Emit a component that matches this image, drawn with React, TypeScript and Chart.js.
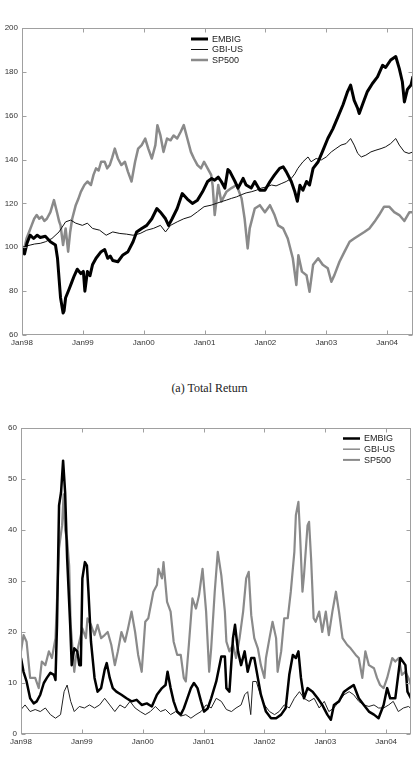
import React, { useEffect, useRef } from "react";
import { Chart, registerables } from "chart.js";

Chart.register(...registerables);

// x values are months since Jan 1998
const xTickMonths = [0, 12, 24, 36, 48, 60, 72];
const xTickLabels = ["Jan98", "Jan99", "Jan00", "Jan01", "Jan02", "Jan03", "Jan04"];
const seriesNames = ["EMBIG", "GBI-US", "SP500"];

// (a) Total Return
const trEmbig: [number, number][] = [
  [0, 100], [0.5, 97], [1, 102], [1.6, 105.5], [2.3, 104], [3, 105.5], [3.6, 104.5], [4.6, 105], [5.6, 102.5],
  [6.6, 101], [7, 95], [7.6, 77], [8.1, 70], [8.3, 71], [8.6, 77], [9.3, 81], [9.8, 84], [10.3, 87], [10.9, 90],
  [11.6, 88], [12.1, 89], [12.4, 80], [12.9, 89], [13.4, 87], [13.9, 92], [14.6, 95], [15.6, 98], [16.3, 99],
  [16.9, 95], [17.4, 96], [17.9, 94], [18.9, 93.4], [19.9, 96.5], [20.9, 98], [21.9, 102.5], [22.6, 107],
  [23.6, 108.6], [24.6, 110], [25.6, 113], [26.6, 117.7], [27.3, 116], [28.3, 113], [28.9, 110], [29.6, 113],
  [30.6, 117.7], [31.6, 124.5], [32.6, 122], [33.6, 120], [34.6, 121.5], [35.6, 125.3], [36.6, 130], [37.4, 131.4],
  [38, 130.6], [38.7, 132], [39.3, 130], [40, 127], [40.6, 135.5], [41, 134.5], [42, 130], [42.6, 127],
  [43.6, 131.4], [44.2, 128.4], [45.2, 127], [45.9, 130], [46.9, 126], [47.9, 126], [48.9, 130], [49.8, 133],
  [50.8, 136], [51.5, 136.7], [52.1, 134.5], [53.1, 130], [53.8, 125.3], [54.3, 121], [54.8, 128.3], [55.4, 126],
  [56.1, 130], [56.7, 128.4], [57.4, 136], [58.4, 139], [59.3, 144], [60.3, 149.6], [61.3, 154], [62.3, 159.5],
  [63.3, 165], [64.2, 171], [64.8, 174], [65.5, 167], [66.2, 163.3], [66.5, 161], [67.2, 165.5], [68.1, 171],
  [69.1, 174.7], [70.1, 177.7], [71.1, 183], [71.7, 182], [72.7, 185.4], [73.7, 187], [74.4, 181.5], [75, 175.5],
  [75.4, 166.3], [76, 172], [76.7, 174], [77.1, 178],
];
const trGbi: [number, number][] = [
  [0, 100], [0.8, 100.5], [1.6, 101], [2.5, 101.5], [3.6, 101.8], [4.6, 102.5], [5.9, 104], [7.3, 107],
  [8.6, 111.6], [9.6, 112.4], [10.6, 111], [11.9, 110], [12.9, 111], [13.9, 108.6], [15.3, 107.8], [16.6, 105.5],
  [17.9, 107], [19.3, 106.3], [20.6, 106], [21.9, 105.5], [23.3, 106.3], [24.6, 107.8], [25.9, 108.6], [27.3, 110],
  [28.3, 107], [29.3, 110], [30.6, 111.6], [31.9, 113], [33.3, 114], [34.6, 116.2], [35.9, 118.5], [37.3, 119.2],
  [38.3, 120], [39.3, 120.8], [40.3, 121.5], [41.3, 122.3], [42.3, 123], [43.3, 124], [44.2, 124.8], [45.2, 125.3],
  [46.2, 126], [47.2, 127], [48.2, 127.5], [49.2, 128.4], [50.1, 128], [51.1, 129], [52.1, 130], [53.1, 131.4],
  [53.8, 133.5], [54.4, 136], [55.4, 139], [56.4, 141.2], [57, 139], [58, 140.5], [59, 139.8], [60, 141.2],
  [61, 143.5], [61.9, 145], [62.9, 146.6], [63.9, 147.3], [64.8, 149.6], [65.5, 146.6], [66.2, 142.8], [66.9, 141.2],
  [67.8, 142], [68.8, 143.5], [69.8, 144.3], [70.8, 145], [71.7, 145.8], [72.7, 147.3], [73.7, 149.6], [74.4, 146.6],
  [75.4, 143.5], [76.3, 142.8], [77.1, 143.5],
];
const trSp500: [number, number][] = [
  [0, 96.5], [0.5, 100], [0.9, 104], [1.4, 107], [1.9, 110], [2.4, 113], [2.9, 114.7], [3.4, 113], [3.9, 114],
  [4.4, 112], [4.9, 113], [5.6, 116], [6.3, 121.5], [6.9, 116], [7.3, 112], [7.6, 110], [8.1, 101], [8.6, 108.6],
  [9.1, 98], [9.5, 107], [9.9, 113], [10.6, 119.2], [11.1, 122], [11.6, 125.3], [12.3, 128.4], [12.9, 130],
  [13.6, 128.4], [14.1, 133], [14.6, 136], [15.1, 135], [15.6, 139], [16.3, 139], [16.8, 136], [17.3, 137.5],
  [17.8, 141], [18.3, 145], [18.9, 140.5], [19.6, 137.5], [20.3, 139], [20.9, 134.4], [21.6, 130], [22.3, 139],
  [22.9, 145], [23.6, 146.6], [24.3, 149.6], [24.9, 145], [25.6, 140.5], [26.3, 146.6], [26.7, 155.7], [27.3, 151],
  [27.9, 143.5], [28.6, 149.6], [29.3, 148.8], [29.9, 151], [30.6, 149.6], [31.3, 152.7], [31.9, 155.7],
  [32.6, 149.6], [33.3, 143.5], [33.9, 140.5], [34.6, 137.5], [35.3, 136], [35.9, 139], [36.6, 136], [37.3, 133],
  [37.6, 128], [38, 114.7], [38.7, 128.4], [39.3, 120.8], [40.3, 125.3], [41.3, 127], [42.3, 128.4], [43.3, 122.3],
  [43.9, 113], [44.5, 99.5], [44.9, 108.6], [45.9, 117.7], [46.9, 119.2], [47.9, 116], [48.9, 119.2], [49.8, 114.7],
  [50.5, 110], [51.5, 108.6], [52.4, 104], [53.4, 95], [54.1, 82.8], [54.5, 96.4], [55.2, 88.9], [56.1, 87.3],
  [56.7, 79.7], [57.4, 92], [58.4, 95], [59.3, 92], [60.3, 90.4], [61, 84.3], [61.6, 87.3], [62.6, 93.4], [63.6, 98],
  [64.6, 102.5], [65.5, 104], [66.5, 105.5], [67.5, 107], [68.5, 108.6], [69.5, 111.6], [70.4, 114.7],
  [71.4, 118.5], [72.4, 118.5], [73.4, 116], [74.4, 114.7], [75.4, 112], [76.4, 116], [77.1, 116],
];

// (b) Volatility
const volEmbig: [number, number][] = [
  [0, 14.9], [0.5, 12.2], [1.1, 10.3], [1.8, 7], [2.5, 6], [3.1, 6.4], [3.8, 7.7], [4.5, 10], [5.1, 11], [5.8, 12],
  [6.5, 11.6], [6.8, 10.6], [7.1, 21.4], [7.5, 44.8], [7.9, 47.4], [8.3, 53.6], [8.7, 47.4], [9.1, 34.4],
  [9.7, 21.4], [10, 13.5], [10.5, 16.8], [11.1, 16.2], [11.5, 13.5], [11.8, 13.5], [12.1, 30.5], [12.6, 33.7],
  [13, 33], [13.3, 27.9], [13.8, 18.1], [14.5, 11], [15.1, 8.3], [15.8, 9], [16.5, 12.6], [16.9, 13.9], [17.5, 11],
  [18.1, 9], [18.8, 8.3], [19.8, 7.7], [20.8, 7], [21.8, 6.4], [22.8, 6.7], [23.8, 5.7], [24.8, 6], [25.8, 5.4],
  [26.8, 7.7], [27.8, 9], [28.5, 9.6], [28.9, 12.2], [29.5, 9], [30.1, 6.4], [30.8, 4.4], [31.5, 3.8], [32.1, 5],
  [32.8, 7], [33.5, 9], [34.1, 10], [34.8, 9], [35.5, 6.4], [36.1, 4.4], [36.8, 5], [37.5, 7], [38.5, 10.3],
  [39.5, 15.2], [40.2, 15.2], [40.5, 9], [41.1, 8.3], [41.8, 18.8], [42.2, 21.4], [42.8, 16.2], [43.4, 13.5],
  [44.1, 16.2], [44.7, 12.2], [45.4, 14.9], [46, 14.9], [46.7, 11], [47.3, 7.7], [48.3, 4.4], [49.3, 3.1],
  [50.3, 3.1], [51.3, 3.8], [52.2, 5.1], [52.9, 11.6], [53.6, 15.5], [54.2, 14.9], [54.7, 16.2], [55.2, 11],
  [55.8, 7], [56.5, 9], [57.5, 8.3], [58.5, 7], [59.4, 5.7], [60.4, 3.8], [61.1, 2.8], [61.7, 5.7], [62.7, 6.4],
  [63.7, 8.3], [64.7, 9], [65.6, 9.6], [66.6, 7], [67.6, 5.7], [68.6, 4.4], [69.6, 3.8], [70.5, 3.1], [71.5, 5.7],
  [72.2, 9], [72.8, 7], [73.8, 7], [74.8, 14.9], [75.8, 13.5], [76.2, 8.3], [76.9, 7],
];
const volGbi: [number, number][] = [
  [0, 4.8], [0.8, 5.7], [1.8, 4.4], [2.8, 4.8], [3.8, 4.4], [4.8, 5.1], [5.8, 3.8], [6.8, 3.1], [7.8, 3.8],
  [8.5, 8.3], [9.1, 9.6], [9.8, 6.4], [10.5, 4.4], [11.5, 5.4], [12.5, 5.1], [13.5, 5.7], [14.5, 5.1], [15.5, 5.7],
  [16.5, 7], [17.5, 5.7], [18.5, 4.4], [19.5, 5.7], [20.5, 5.1], [21.5, 6.4], [22.5, 5.1], [23.5, 4.4], [24.5, 3.8],
  [25.5, 4.4], [26.5, 5.4], [27.5, 4.4], [28.5, 4.8], [29.5, 3.8], [30.5, 4.4], [31.5, 3.5], [32.5, 3.8],
  [33.5, 3.1], [34.5, 3.8], [35.5, 4.4], [36.5, 5.7], [37.5, 5.1], [38.5, 7], [39.5, 6.4], [40.5, 4.8], [41.5, 4.4],
  [42.4, 5.1], [43.4, 5.7], [44.1, 7.7], [44.7, 8.3], [45.3, 3.8], [45.7, 10.3], [46.4, 10.3], [47, 8.3], [48, 5.7],
  [49, 4.4], [50, 3.8], [50.9, 4.4], [51.9, 5.7], [52.9, 5.1], [53.9, 7], [54.9, 8.3], [55.8, 7], [56.8, 6.4],
  [57.8, 7], [58.8, 5.1], [59.8, 6.4], [60.7, 4.4], [61.7, 5.1], [62.7, 6.4], [63.7, 7.7], [64.7, 8.3], [65.6, 7.7],
  [66.6, 6.4], [67.6, 5.7], [68.6, 5.4], [69.6, 5.7], [70.5, 5.1], [71.5, 5.1], [72.5, 5.7], [73.4, 6.4],
  [74.4, 4.4], [75.4, 5.1], [76.4, 5.4], [76.9, 5],
];
const volSp500: [number, number][] = [
  [0, 16.2], [0.5, 19.4], [1.1, 18.1], [1.8, 11], [2.8, 11], [3.5, 9], [4.1, 14.2], [4.8, 13.5], [5.5, 16.2],
  [6.1, 14.9], [6.8, 18.8], [7.5, 36.4], [8.1, 40.9], [8.4, 47], [8.7, 40], [9.1, 38], [9.5, 33], [9.8, 21.4],
  [10.5, 12.2], [10.8, 14.9], [11.5, 18.1], [12.1, 20.7], [12.8, 18.8], [13.1, 22.7], [13.8, 21.4], [14.5, 19.4],
  [15.1, 21.4], [15.8, 18.8], [16.5, 19.4], [17.1, 20], [17.8, 17.5], [18.5, 13.5], [19.1, 16.2], [19.8, 20],
  [20.5, 18.1], [21.1, 20.7], [21.8, 24], [22.5, 20], [23.1, 15.5], [23.8, 12.2], [24.5, 22], [25.1, 22.7],
  [26.1, 27.9], [26.8, 29.2], [27.1, 32.4], [27.8, 30.5], [28.1, 33.7], [28.8, 25.9], [29.5, 24], [30.1, 18.1],
  [30.8, 15.5], [31.5, 15.5], [32.1, 11], [32.5, 10.3], [33.1, 17.5], [33.8, 26.6], [34.5, 24.6], [35.1, 27.2],
  [35.8, 32.4], [36.5, 24], [37.1, 12.2], [37.5, 16.8], [38.2, 27.9], [38.8, 35.7], [39.5, 31.1], [40.2, 24],
  [40.5, 18.1], [41.1, 16.2], [41.8, 17.5], [42.4, 14.9], [43.1, 18.8], [43.8, 24], [44.4, 30.5], [44.9, 31.8],
  [45.4, 23.3], [46, 18.8], [46.7, 16.8], [47.3, 13.5], [48, 11], [48.3, 14.9], [49, 18.8], [49.6, 22],
  [50.3, 18.8], [50.6, 12.2], [51.3, 16.2], [51.9, 22.7], [52.6, 22.7], [53.2, 27.9], [53.9, 35.7], [54.2, 42.9],
  [54.7, 45.5], [55, 39.6], [55.5, 27.9], [55.8, 31.1], [56.5, 40.9], [56.8, 41.6], [57.2, 34.4], [57.7, 22.7],
  [58.1, 22], [58.8, 24], [59.4, 20], [60.1, 24], [60.7, 19.4], [61.4, 24], [62.1, 27.9], [62.7, 24], [63.4, 18.8],
  [64.3, 17.5], [65, 16.8], [66, 15.5], [66.6, 14.9], [67.3, 11], [67.9, 16.2], [68.6, 13.5], [69.6, 12.9],
  [70.2, 11], [70.8, 9.6], [71.5, 9], [72.2, 11], [73.2, 14.9], [73.8, 14.2], [74.5, 14.9], [75.1, 11.6],
  [75.8, 12.2], [76.4, 11], [76.9, 9.6],
];

const FONT = "'Liberation Sans', Arial, sans-serif";

const framePlugin = {
  id: "frameTicks",
  afterDraw(chart: any) {
    const { ctx, chartArea: a, scales } = chart;
    ctx.save();
    ctx.strokeStyle = "#a0a0a0";
    ctx.lineWidth = 1;
    const L = Math.round(a.left) + 0.5, R = Math.round(a.right) - 0.5;
    const T = Math.round(a.top) + 0.5, B = Math.round(a.bottom) - 0.5;
    ctx.strokeRect(L, T, R - L, B - T);
    ctx.beginPath();
    scales.x.ticks.forEach((t: any) => {
      const px = Math.round(scales.x.getPixelForValue(t.value)) + 0.5;
      ctx.moveTo(px, B); ctx.lineTo(px, B - 4);
      ctx.moveTo(px, T); ctx.lineTo(px, T + 4);
    });
    scales.y.ticks.forEach((t: any) => {
      const py = Math.round(scales.y.getPixelForValue(t.value)) + 0.5;
      ctx.moveTo(L, py); ctx.lineTo(L + 4, py);
      ctx.moveTo(R, py); ctx.lineTo(R - 4, py);
    });
    ctx.stroke();

    // legend
    const lg = chart.options.plugins.boxLegend;
    if (lg) {
      const x0 = lg.align === "center" ? a.left + lg.offsetX : a.right - lg.offsetX;
      ctx.font = `9px ${FONT}`;
      ctx.textBaseline = "middle";
      ctx.textAlign = "left";
      lg.items.forEach((it: any, i: number) => {
        const y = a.top + lg.firstRow + i * lg.rowGap;
        ctx.strokeStyle = it.color;
        ctx.lineWidth = it.width;
        ctx.beginPath();
        ctx.moveTo(x0, y); ctx.lineTo(x0 + 17, y);
        ctx.stroke();
        ctx.fillStyle = "#222";
        ctx.fillText(it.label, x0 + 21, y + 0.5);
      });
    }
    ctx.restore();
  },
};

function makeChart(
  canvas: HTMLCanvasElement,
  series: [number, number][][],
  styles: { color: string; width: number }[],
  yMin: number, yMax: number, yStep: number, xMax: number,
  pad: { top: number; right: number }, yWidth: number, xHeight: number,
  legend: any
) {
  return new Chart(canvas, {
    type: "line",
    data: {
      datasets: series.map((s, i) => ({
        label: seriesNames[i],
        data: s.map(([x, y]) => ({ x, y })),
        borderColor: styles[i].color,
        borderWidth: styles[i].width,
        pointRadius: 0,
        tension: 0,
        borderJoinStyle: "round",
        fill: false,
      })),
    },
    options: {
      responsive: false,
      animation: false,
      events: [],
      layout: { padding: { top: pad.top, right: pad.right, left: 0, bottom: 0 } },
      plugins: { legend: { display: false }, tooltip: { enabled: false }, boxLegend: legend } as any,
      scales: {
        x: {
          type: "linear",
          min: 0,
          max: xMax,
          afterBuildTicks: (s: any) => { s.ticks = xTickMonths.map((v) => ({ value: v })); },
          afterFit: (s: any) => { s.height = xHeight; },
          grid: { display: false, drawTicks: false },
          border: { display: false },
          ticks: {
            autoSkip: false, maxRotation: 0, padding: 3, color: "#333",
            font: { size: 8, family: FONT },
            callback: (_v: any, i: number) => xTickLabels[i],
          },
        },
        y: {
          min: yMin,
          max: yMax,
          afterFit: (s: any) => { s.width = yWidth; },
          grid: { display: false, drawTicks: false },
          border: { display: false },
          ticks: { stepSize: yStep, padding: 4, color: "#333", font: { size: 8, family: FONT } },
        },
      },
    } as any,
    plugins: [framePlugin],
  });
}

export default function App() {
  const topRef = useRef<HTMLCanvasElement>(null);
  const botRef = useRef<HTMLCanvasElement>(null);

  useEffect(() => {
    document.body.style.margin = "0";
    const c1 = makeChart(
      topRef.current!, [trEmbig, trGbi, trSp500],
      [{ color: "#000", width: 3 }, { color: "#111", width: 1 }, { color: "#8a8a8a", width: 2.5 }],
      60, 200, 20, 77.1, { top: 28, right: 6 }, 22, 15,
      {
        align: "center", offsetX: 169, firstRow: 11, rowGap: 10.5,
        items: [
          { label: seriesNames[0], color: "#000", width: 3 },
          { label: seriesNames[1], color: "#111", width: 1 },
          { label: seriesNames[2], color: "#8a8a8a", width: 2.5 },
        ],
      }
    );
    const c2 = makeChart(
      botRef.current!, [volEmbig, volGbi, volSp500],
      [{ color: "#000", width: 2.5 }, { color: "#222", width: 1 }, { color: "#8a8a8a", width: 2.2 }],
      0, 60, 10, 76.9, { top: 28, right: 8 }, 21, 16,
      {
        align: "right", offsetX: 68, firstRow: 10.5, rowGap: 10.7,
        items: [
          { label: seriesNames[0], color: "#000", width: 2.5 },
          { label: seriesNames[1], color: "#8a8a8a", width: 1.5 },
          { label: seriesNames[2], color: "#8a8a8a", width: 2 },
        ],
      }
    );
    return () => { c1.destroy(); c2.destroy(); };
  }, []);

  return (
    <div style={{ position: "relative", width: 419, height: 770, background: "#fff", overflow: "hidden" }}>
      <canvas ref={topRef} width={419} height={350}
        style={{ position: "absolute", left: 0, top: 0, width: 419, height: 350 }} />
      <div style={{
        position: "absolute", left: 0, top: 380, width: 419, textAlign: "center",
        fontFamily: "'Liberation Serif', 'DejaVu Serif', serif", fontSize: 12, lineHeight: "16px", color: "#222",
      }}>(a) Total Return</div>
      <canvas ref={botRef} width={419} height={350}
        style={{ position: "absolute", left: 0, top: 400, width: 419, height: 350 }} />
    </div>
  );
}
